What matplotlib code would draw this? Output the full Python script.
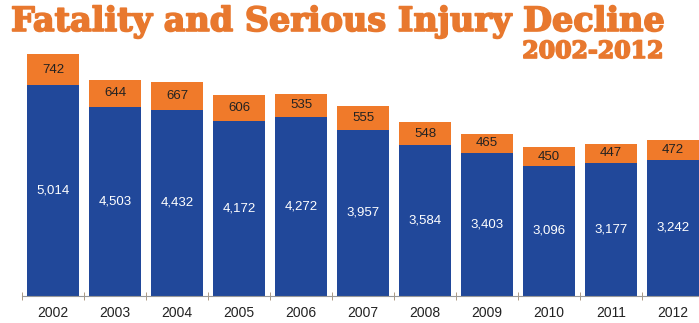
import numpy as np
import matplotlib.pyplot as plt
import matplotlib.patheffects as pe

# Fatality and serious injury counts by year
years = ['2002', '2003', '2004', '2005', '2006', '2007', '2008', '2009', '2010', '2011', '2012']
serious = [5014, 4503, 4432, 4172, 4272, 3957, 3584, 3403, 3096, 3177, 3242]
fatal = [742, 644, 667, 606, 535, 555, 548, 465, 450, 447, 472]

blue = '#21489a'
orange = '#f07a2a'
title_orange = '#e8782e'

fig = plt.figure(figsize=(6.99, 3.23), dpi=100)
ax = fig.add_axes([22/699, 27/323, 682/699, 252/323])

x = np.arange(len(years))
ax.bar(x, serious, width=0.84, color=blue)
ax.bar(x, fatal, width=0.84, bottom=serious, color=orange)

for i in range(len(years)):
    ax.text(x[i], serious[i] / 2, f'{serious[i]:,}', ha='center', va='center',
            color='white', fontsize=9.5, family='Liberation Sans')
    ax.text(x[i], serious[i] + fatal[i] / 2, f'{fatal[i]:,}', ha='center', va='center',
            color='#222222', fontsize=9.5, family='Liberation Sans')

ax.set_xlim(-0.5, len(years) - 0.5)
ax.set_ylim(0, 6000)
ax.set_xticks(x)
ax.set_xticklabels(years, fontsize=10, family='Liberation Sans', color='#222222')
ax.tick_params(axis='x', length=0, pad=7)
ax.set_xticks(np.arange(len(years)) - 0.5, minor=True)
ax.tick_params(axis='x', which='minor', direction='inout', length=6, color='#a08a70')
ax.set_yticks([])
for s in ['top', 'right', 'left']:
    ax.spines[s].set_visible(False)
ax.spines['bottom'].set_color('#999999')

heavy = [pe.withStroke(linewidth=1.2, foreground=title_orange)]
fig.text(11/699, 1 - 31/323, 'Fatality and Serious Injury Decline', ha='left', va='baseline',
         fontsize=24.1, fontweight='bold', family='DejaVu Serif', color=title_orange,
         path_effects=heavy)
fig.text(664/699, 1 - 58/323, '2002-2012', ha='right', va='baseline',
         fontsize=17, fontweight='bold', family='DejaVu Serif', color=title_orange,
         path_effects=heavy)

fig.savefig('out.png', dpi=100)
